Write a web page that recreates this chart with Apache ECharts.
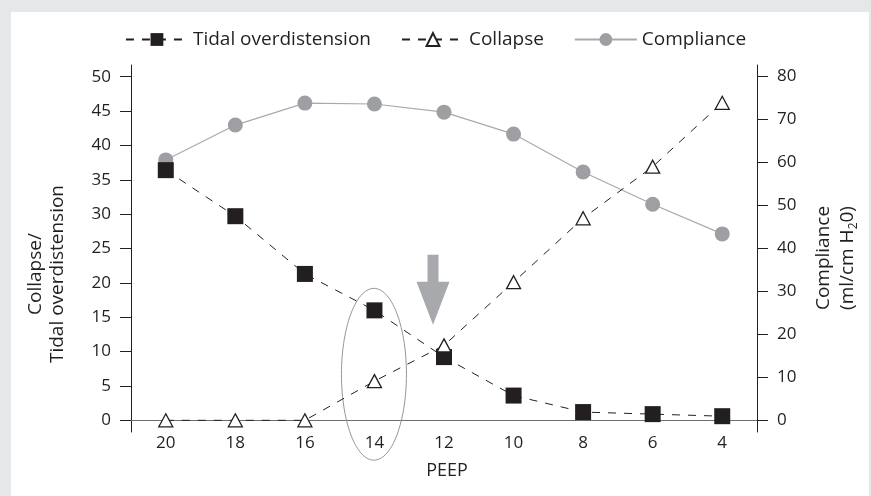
<!DOCTYPE html>
<html>
<head>
<meta charset="utf-8">
<script src="https://cdn.jsdelivr.net/npm/echarts@6/dist/echarts.min.js"></script>
<style>
  html, body { margin: 0; padding: 0; background: #e6e7e8; }
  #panel { position: absolute; left: 11px; top: 12px; width: 858px; height: 484px; background: #fff; }
  #chart { position: absolute; left: 0; top: 0; width: 871px; height: 496px; }
</style>
</head>
<body>
<div id="panel"></div>
<div id="chart"></div>
<script>
// PEEP steps (cmH2O), decremental trial
const peep = ['20', '18', '16', '14', '12', '10', '8', '6', '4'];
// Percent of lung with tidal overdistension
const tidalOverdistension = [36.4, 29.7, 21.3, 16.0, 9.2, 3.6, 1.2, 0.9, 0.6];
// Percent of lung collapse
const collapse = [0, 0, 0, 5.7, 10.9, 20.1, 29.4, 36.9, 46.2];
// Respiratory system compliance (ml/cm H2O)
const compliance = [60.5, 68.6, 73.7, 73.5, 71.6, 66.5, 57.7, 50.2, 43.3];
// Tick labels on both value axes
const leftTicks = [0, 5, 10, 15, 20, 25, 30, 35, 40, 45, 50];
const rightTicks = [0, 10, 20, 30, 40, 50, 60, 70, 80];

const FONT = '"Open Sans"';
const INK = '#231f20';
const GREY = '#9d9fa2';

const chart = echarts.init(document.getElementById('chart'), null, { renderer: 'canvas' });

const option = {
  backgroundColor: 'transparent',
  animation: false,
  textStyle: { fontFamily: FONT, color: INK },
  legend: {
    top: 25,
    left: 'center',
    itemWidth: 62,
    itemHeight: 16,
    itemGap: 30,
    textStyle: { fontFamily: FONT, fontSize: 19, color: INK },
    data: ['Tidal overdistension', 'Collapse', 'Compliance']
  },
  grid: { left: 131, right: 114, top: 65, bottom: 64, containLabel: false },
  xAxis: {
    type: 'category',
    data: peep,
    boundaryGap: true,
    axisLine: { onZero: true, onZeroAxisIndex: 0, lineStyle: { color: '#6d6e71', width: 1.2 } },
    axisTick: { show: false },
    axisLabel: { margin: 3, fontFamily: FONT, fontSize: 17, color: INK },
    splitLine: { show: false }
  },
  yAxis: [
    {
      type: 'value',
      min: -1.7,
      max: 51.7,
      axisLine: { show: true, lineStyle: { color: INK, width: 1 } },
      axisTick: { show: true, length: 11, inside: false, customValues: leftTicks, lineStyle: { color: INK } },
      axisLabel: { customValues: leftTicks, margin: 20, fontFamily: FONT, fontSize: 17, color: INK },
      splitLine: { show: false }
    },
    {
      type: 'value',
      position: 'right',
      min: -2.74,
      max: 82.56,
      axisLine: { show: true, lineStyle: { color: INK, width: 1 } },
      axisTick: { show: true, length: 11, inside: false, customValues: rightTicks, lineStyle: { color: INK } },
      axisLabel: { customValues: rightTicks, margin: 20, fontFamily: FONT, fontSize: 17, color: INK },
      splitLine: { show: false }
    }
  ],
  series: [
    {
      name: 'Tidal overdistension',
      type: 'line',
      yAxisIndex: 0,
      data: tidalOverdistension,
      symbol: 'rect',
      symbolSize: 16,
      z: 4,
      itemStyle: { color: INK },
      lineStyle: { color: INK, width: 1, type: [8, 8] }
    },
    {
      name: 'Collapse',
      type: 'line',
      yAxisIndex: 0,
      data: collapse,
      symbol: 'triangle',
      symbolSize: [14, 13],
      z: 5,
      itemStyle: { color: '#fff', borderColor: INK, borderWidth: 1.3 },
      lineStyle: { color: INK, width: 1, type: [8, 8] }
    },
    {
      name: 'Compliance',
      type: 'line',
      yAxisIndex: 1,
      data: compliance,
      symbol: 'circle',
      symbolSize: 15,
      z: 2,
      itemStyle: { color: GREY },
      lineStyle: { color: '#a7a9ac', width: 1.2 }
    }
  ]
};

chart.setOption(option);

// Annotations anchored to the axes: ellipse around PEEP 14, arrow above PEEP 12
function px(cat, val) {
  return chart.convertToPixel({ xAxisIndex: 0, yAxisIndex: 0 }, [cat, val]);
}
const eTop = px('14', 19.2);
const eBot = px('14', -5.8);
const ecx = eTop[0] - 0.5;
const ecy = (eTop[1] + eBot[1]) / 2;
const ery = (eBot[1] - eTop[1]) / 2;
const erx = 32.5;
const ellipsePts = [];
for (let i = 0; i <= 120; i++) {
  const a = (i / 120) * Math.PI * 2;
  ellipsePts.push([ecx + erx * Math.cos(a), ecy + ery * Math.sin(a)]);
}

const tip = px('12', 13.9);
const ax = tip[0] - 11;
const ay = tip[1];
const arrowPts = [
  [ax - 5.5, ay - 70], [ax + 5.5, ay - 70], [ax + 5.5, ay - 43],
  [ax + 16.5, ay - 43], [ax, ay], [ax - 16.5, ay - 43], [ax - 5.5, ay - 43]
];

chart.setOption({
  graphic: [
    {
      type: 'polyline',
      shape: { points: ellipsePts },
      style: { stroke: '#939598', lineWidth: 1, fill: null },
      z: 1
    },
    {
      type: 'polygon',
      shape: { points: arrowPts },
      style: { fill: '#a7a9ac' },
      z: 10
    },
    {
      type: 'text',
      x: 47,
      y: 274,
      rotation: Math.PI / 2,
      style: {
        text: 'Collapse/\nTidal overdistension',
        fontFamily: FONT,
        fontSize: 19,
        lineHeight: 22,
        fill: INK,
        align: 'center',
        verticalAlign: 'middle'
      }
    },
    {
      type: 'text',
      x: 836,
      y: 258,
      rotation: Math.PI / 2,
      style: {
        text: 'Compliance\n(ml/cm H{sub|2}0)',
        fontFamily: FONT,
        fontSize: 19,
        lineHeight: 24,
        fill: INK,
        align: 'center',
        verticalAlign: 'middle',
        rich: { sub: { fontFamily: FONT, fontSize: 12, fill: INK, verticalAlign: 'bottom', padding: [10, 0, 0, 0] } }
      }
    },
    {
      type: 'text',
      x: 447,
      y: 471,
      style: {
        text: 'PEEP',
        fontFamily: FONT,
        fontSize: 18,
        fill: INK,
        align: 'center',
        verticalAlign: 'middle'
      }
    }
  ]
});
</script>
</body>
</html>
